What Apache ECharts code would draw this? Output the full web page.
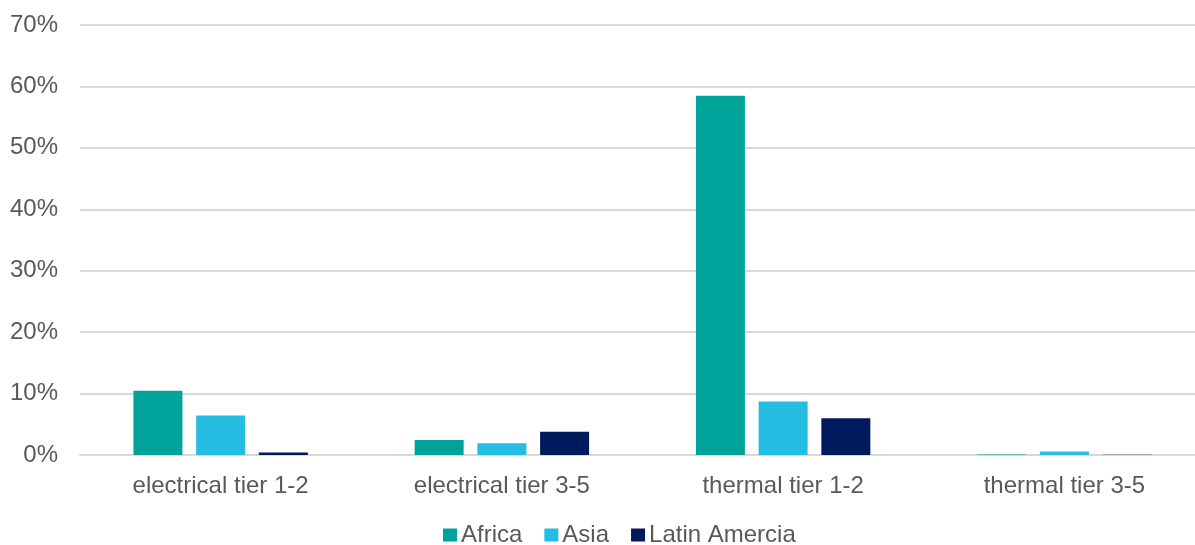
<!DOCTYPE html>
<html>
<head>
<meta charset="utf-8">
<script src="https://cdn.jsdelivr.net/npm/echarts@6/dist/echarts.min.js"></script>
<style>
  html, body { margin: 0; padding: 0; background: #ffffff; overflow: hidden; }
  #chart { width: 1195px; height: 545px; }
</style>
</head>
<body>
<div id="chart"></div>
<script>
// Share of households by access tier and region (%)
const categories = ['electrical tier 1-2', 'electrical tier 3-5', 'thermal tier 1-2', 'thermal tier 3-5'];
const africa = [10.45, 2.45, 58.5, 0.1];
const asia = [6.45, 1.9, 8.7, 0.55];
const latinAmerica = [0.4, 3.8, 6.0, 0.05];
const seriesNames = ['Africa', 'Asia', 'Latin Amercia'];
const colors = ['#00A39A', '#26BDE2', '#001A5E'];

const chart = echarts.init(document.getElementById('chart'), null, { renderer: 'canvas' });
const font = '"Liberation Sans", Arial, sans-serif';
const textColor = '#595959';

chart.setOption({
  animation: false,
  textStyle: { fontFamily: font },
  // plot area runs slightly past the right edge of the canvas
  grid: { left: 80, top: 25, width: 1125, height: 430, containLabel: false, outerBoundsMode: 'none' },
  legend: {
    top: 518,
    left: 438,
    itemWidth: 14,
    itemHeight: 13,
    itemGap: 22,
    icon: 'rect',
    textStyle: { fontSize: 24, color: textColor, fontFamily: font, padding: [0, 0, 0, -1] },
    data: seriesNames
  },
  xAxis: {
    type: 'category',
    data: categories,
    axisTick: { show: false },
    axisLine: { show: true, lineStyle: { color: '#d9d9d9', width: 2 } },
    axisLabel: { fontSize: 24, color: textColor, margin: 19, fontFamily: font }
  },
  yAxis: {
    type: 'value',
    min: 0,
    max: 70,
    interval: 10,
    axisLine: { show: false },
    axisTick: { show: false },
    splitLine: { lineStyle: { color: '#d9d9d9', width: 2 } },
    axisLabel: { fontSize: 24, color: textColor, margin: 22, fontFamily: font, formatter: '{value}%' }
  },
  series: [
    { name: seriesNames[0], type: 'bar', data: africa, barWidth: 49, barGap: '28%', itemStyle: { color: colors[0] } },
    { name: seriesNames[1], type: 'bar', data: asia, barWidth: 49, barGap: '28%', itemStyle: { color: colors[1] } },
    { name: seriesNames[2], type: 'bar', data: latinAmerica, barWidth: 49, barGap: '28%', itemStyle: { color: colors[2] } }
  ]
});
</script>
</body>
</html>
